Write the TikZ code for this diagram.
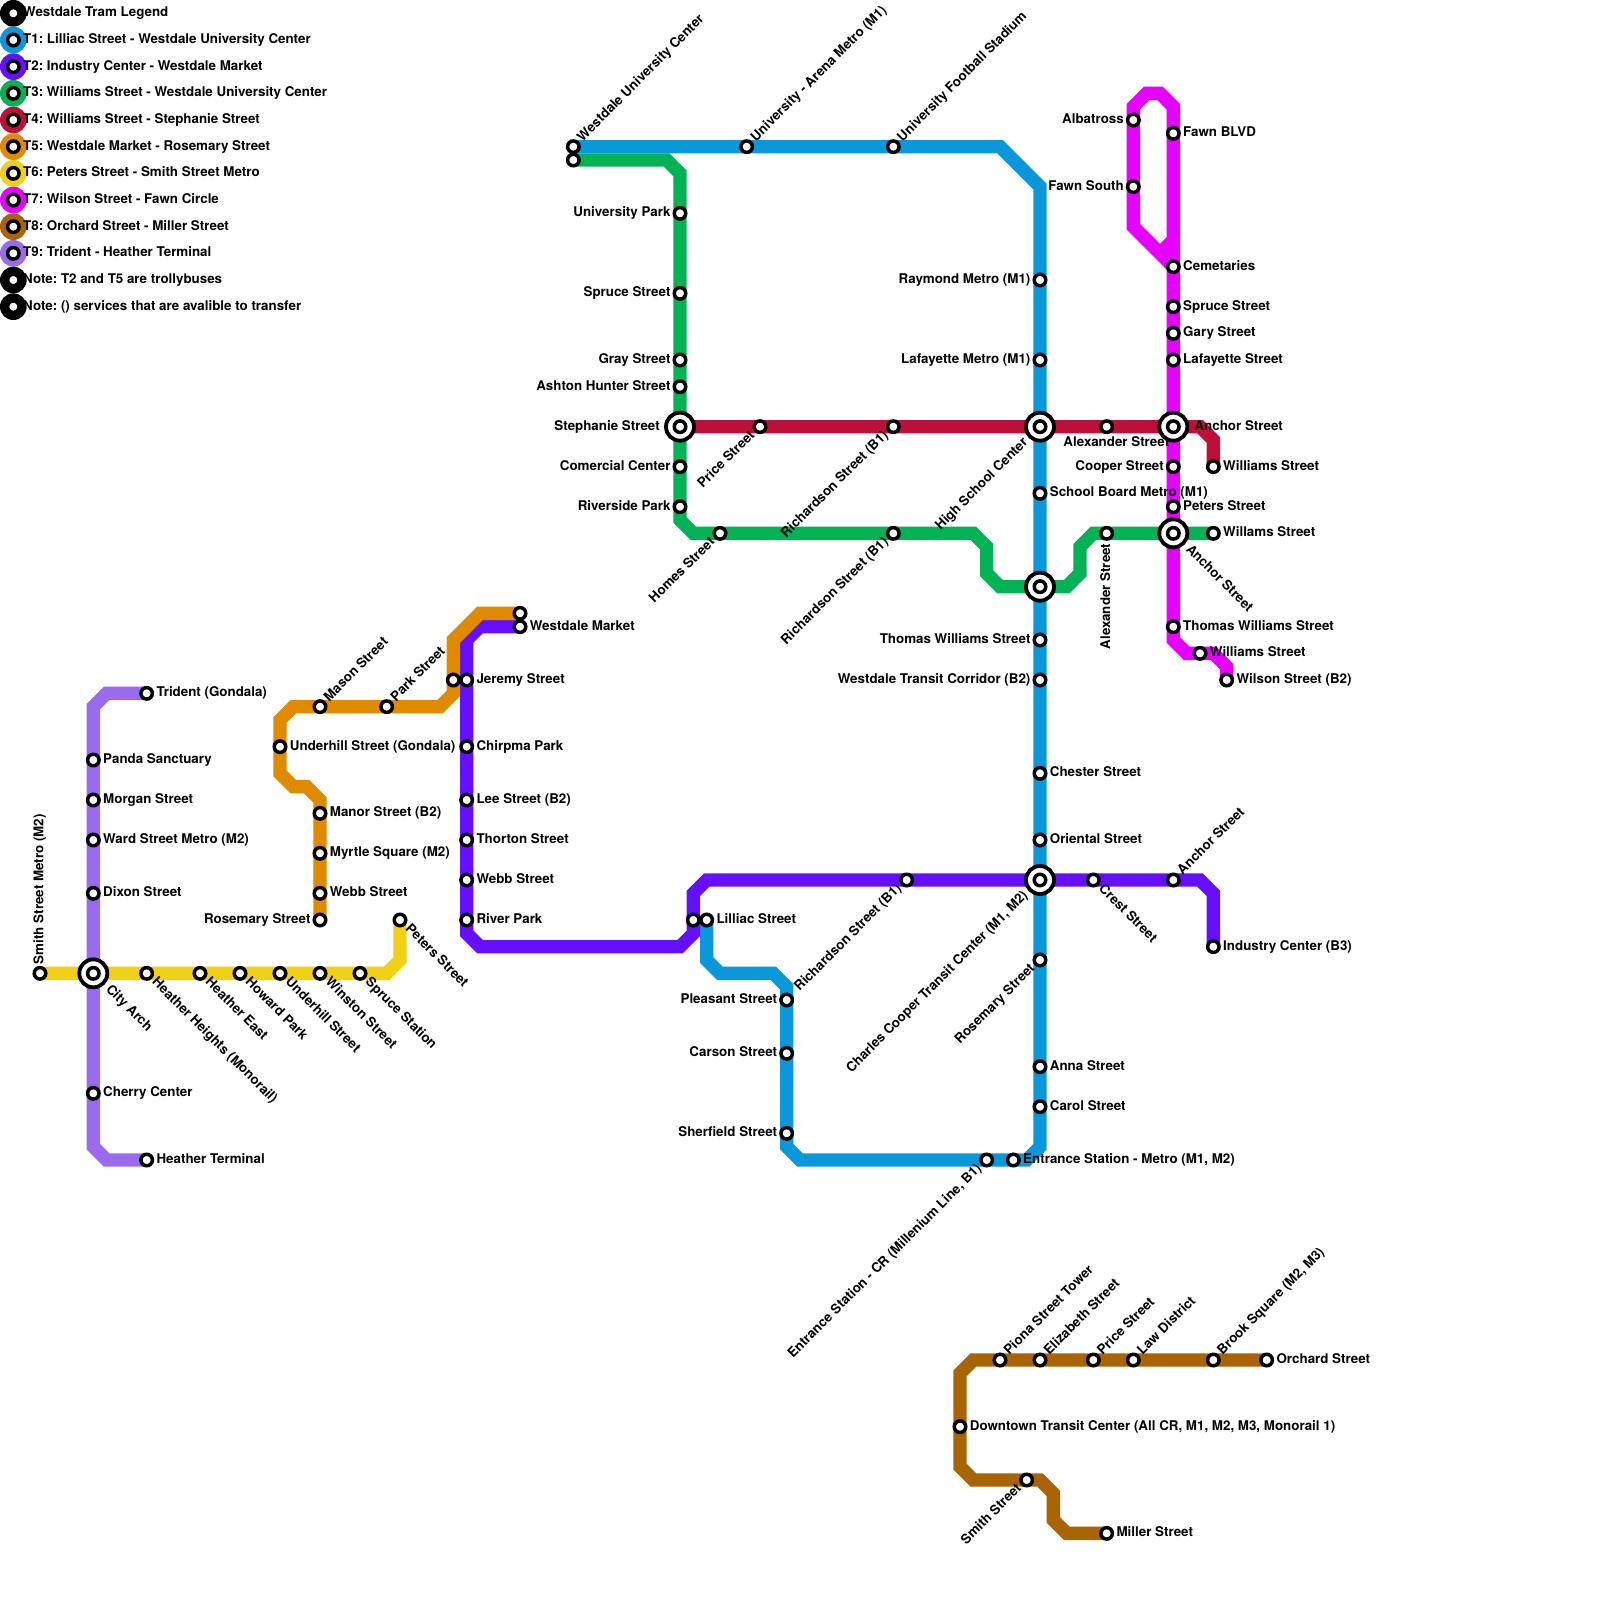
\documentclass[tikz,border=0pt]{standalone}
\usepackage{fontspec}
\setmainfont{TeX Gyre Heros}
\usetikzlibrary{backgrounds}
\definecolor{tone1}{HTML}{0A98DA}
\definecolor{tone2}{HTML}{660FFF}
\definecolor{tone3}{HTML}{02B254}
\definecolor{tone4}{HTML}{BD1038}
\definecolor{tone5}{HTML}{E08A00}
\definecolor{tone6}{HTML}{F2D016}
\definecolor{tone7}{HTML}{E500FF}
\definecolor{tone8}{HTML}{A86405}
\definecolor{tone9}{HTML}{9B6BEE}
\tikzset{
  tram/.style={line width=4mm},
  stop/.style={circle,draw=black,fill=white,line width=1.05mm,minimum size=3.45mm,inner sep=0pt,outer sep=0pt},
  hub/.style={circle,draw=black,fill=white,line width=1.15mm,minimum size=8.4mm,inner sep=0pt,outer sep=0pt},
  legdisc/.style={circle,minimum size=8mm,inner sep=0pt,outer sep=0pt},
  txt/.style={inner sep=0pt,font=\bfseries\fontsize{11.4}{13}\selectfont},
  rlab/.style={txt,anchor=base west,xshift=2.9mm,yshift=-1mm},
  llab/.style={txt,anchor=base east,xshift=-2.8mm,yshift=-1mm},
  rhub/.style={txt,anchor=base west,xshift=6.3mm,yshift=-1mm},
  lhub/.style={txt,anchor=base east,xshift=-6mm,yshift=-1mm},
  dlab/.style={txt,anchor=base,xshift=2.9mm,yshift=-5.8mm},
  urlab/.style={txt,anchor=base west,rotate=45,xshift=2.9mm,yshift=-1mm},
  lllab/.style={txt,anchor=base east,rotate=45,xshift=-2.9mm,yshift=-1mm},
  lrlab/.style={txt,anchor=base west,rotate=-45,xshift=3mm,yshift=-1mm},
  llhub/.style={txt,anchor=base east,rotate=45,xshift=-5.9mm,yshift=-1mm},
  lrhub/.style={txt,anchor=base west,rotate=-45,xshift=6mm,yshift=-1mm},
  uplab/.style={txt,anchor=base west,rotate=90,xshift=2.7mm,yshift=-1mm},
  dnlab/.style={txt,anchor=base east,rotate=90,xshift=-3mm,yshift=-1mm},
}
\begin{document}
\frenchspacing
\begin{tikzpicture}[x=4mm,y=-4mm]
\useasboundingbox (0,0) rectangle (120,120);

% legend
\foreach \py/\tone/\txt in {
  1/black/Westdale Tram Legend,
  3/tone1/T1: Lilliac Street - Westdale University Center,
  5/tone2/T2: Industry Center - Westdale Market,
  7/tone3/T3: Williams Street - Westdale University Center,
  9/tone4/T4: Williams Street - Stephanie Street,
  11/tone5/T5: Westdale Market - Rosemary Street,
  13/tone6/T6: Peters Street - Smith Street Metro,
  15/tone7/T7: Wilson Street - Fawn Circle,
  17/tone8/T8: Orchard Street - Miller Street,
  19/tone9/T9: Trident - Heather Terminal,
  21/black/Note: T2 and T5 are trollybuses,
  23/black/Note: () services that are avalible to transfer}{
  \node[legdisc,fill=\tone] (disc\py) at (1,\py) {};
  \node[stop] (leg\py) at (1,\py) {};
  \node[rlab] (legtxt\py) at (leg\py) {\txt};
}

% interchanges
\foreach \nm/\px/\py in {hstephanie/51/32,hschool/78/32,hanchor/88/32,hmid/78/44,hanchorb/88/40,hcooper/78/66,harch/7/73}
  \node[hub] (\nm) at (\px,\py) {};
\foreach \nm/\px/\py in {mid/78/44,tonetwo/52/69,uniwest/43/12,jeremywest/34/51,markettop/39/46}
  \node[stop] (\nm) at (\px,\py) {};

% stations
\foreach \nm/\px/\py/\lab/\txt in {
  % T1
  westdale/43/11/urlab/Westdale University Center,
  arena/56/11/urlab/University - Arena Metro (M1),
  stadium/67/11/urlab/University Football Stadium,
  raymond/78/21/llab/Raymond Metro (M1),
  lafayette/78/27/llab/Lafayette Metro (M1),
  highschool/78/32/llhub/High School Center,
  board/78/37/rlab/School Board Metro (M1),
  thomas/78/48/llab/Thomas Williams Street,
  corridor/78/51/llab/Westdale Transit Corridor (B2),
  chester/78/58/rlab/Chester Street,
  oriental/78/63/rlab/Oriental Street,
  cooper/78/66/llhub/{Charles Cooper Transit Center (M1, M2)},
  rosemary/78/72/lllab/Rosemary Street,
  anna/78/80/rlab/Anna Street,
  carol/78/83/rlab/Carol Street,
  metro/76/87/rlab/{Entrance Station - Metro (M1, M2)},
  entrance/74/87/lllab/{Entrance Station - CR (Millenium Line, B1)},
  sherfield/59/85/llab/Sherfield Street,
  carson/59/79/llab/Carson Street,
  pleasant/59/75/llab/Pleasant Street,
  lilliac/53/69/rlab/Lilliac Street,
  % T2
  market/39/47/rlab/Westdale Market,
  jeremy/35/51/rlab/Jeremy Street,
  chirpma/35/56/rlab/Chirpma Park,
  lee/35/60/rlab/Lee Street (B2),
  thorton/35/63/rlab/Thorton Street,
  webb/35/66/rlab/Webb Street,
  river/35/69/rlab/River Park,
  richa/68/66/lllab/Richardson Street (B1),
  crest/82/66/lrlab/Crest Street,
  anchora/88/66/urlab/Anchor Street,
  industry/91/71/rlab/Industry Center (B3),
  % T3
  university/51/16/llab/University Park,
  spruce/51/22/llab/Spruce Street,
  gray/51/27/llab/Gray Street,
  ashton/51/29/llab/Ashton Hunter Street,
  stephanie/51/32/lhub/Stephanie Street,
  comercial/51/35/llab/Comercial Center,
  riverside/51/38/llab/Riverside Park,
  homes/54/40/lllab/Homes Street,
  richb/67/40/lllab/Richardson Street (B1),
  alexb/83/40/dnlab/Alexander Street,
  anchorb/88/40/lrhub/Anchor Street,
  willams/91/40/rlab/Willams Street,
  % T4
  price/57/32/lllab/Price Street,
  richc/67/32/lllab/Richardson Street (B1),
  alex/83/32/dlab/Alexander Street,
  anchor/88/32/rhub/Anchor Street,
  williams/91/35/rlab/Williams Street,
  % T5
  mason/24/53/urlab/Mason Street,
  park/29/53/urlab/Park Street,
  underhill/21/56/rlab/Underhill Street (Gondala),
  manor/24/61/rlab/Manor Street (B2),
  myrtle/24/64/rlab/Myrtle Square (M2),
  webbst/24/67/rlab/Webb Street,
  rosemaryb/24/69/llab/Rosemary Street,
  % T6
  smith/3/73/uplab/Smith Street Metro (M2),
  arch/7/73/lrhub/City Arch,
  heights/11/73/lrlab/Heather Heights (Monorail),
  east/15/73/lrlab/Heather East,
  howard/18/73/lrlab/Howard Park,
  underst/21/73/lrlab/Underhill Street,
  winston/24/73/lrlab/Winston Street,
  station/27/73/lrlab/Spruce Station,
  peters/30/69/lrlab/Peters Street,
  % T7
  albatross/85/9/llab/Albatross,
  fawn/88/10/rlab/Fawn BLVD,
  fawnsouth/85/14/llab/Fawn South,
  cemetaries/88/20/rlab/Cemetaries,
  sprucest/88/23/rlab/Spruce Street,
  gary/88/25/rlab/Gary Street,
  lafayst/88/27/rlab/Lafayette Street,
  cooperst/88/35/llab/Cooper Street,
  petersst/88/38/rlab/Peters Street,
  thomasst/88/47/rlab/Thomas Williams Street,
  williamsb/90/49/rlab/Williams Street,
  wilson/92/51/rlab/Wilson Street (B2),
  % T8
  piona/75/102/urlab/Piona Street Tower,
  elizabeth/78/102/urlab/Elizabeth Street,
  pricest/82/102/urlab/Price Street,
  law/85/102/urlab/Law District,
  brook/91/102/urlab/{Brook Square (M2, M3)},
  orchard/95/102/rlab/Orchard Street,
  downtown/72/107/rlab/{Downtown Transit Center (All CR, M1, M2, M3, Monorail 1)},
  smithst/77/111/lllab/Smith Street,
  miller/83/115/rlab/Miller Street,
  % T9
  trident/11/52/rlab/Trident (Gondala),
  panda/7/57/rlab/Panda Sanctuary,
  morgan/7/60/rlab/Morgan Street,
  ward/7/63/rlab/Ward Street Metro (M2),
  dixon/7/67/rlab/Dixon Street,
  cherry/7/82/rlab/Cherry Center,
  terminal/11/87/rlab/Heather Terminal}{
  \node[stop] (\nm) at (\px,\py) {};
  \node[\lab] (\nm txt) at (\nm) {\txt};
}

% bends
\foreach \nm/\px/\py in {
  a1/75/11,a2/78/14,a3/78/86,a4/77/87,a5/60/87,a6/59/86,a7/59/74,a8/58/73,a9/54/73,a10/53/72,
  b1/36/47,b2/35/48,b3/35/70,b4/36/71,b5/51/71,b6/52/70,b7/52/67,b8/53/66,b9/90/66,b10/91/67,
  c1/50/12,c2/51/13,c3/51/39,c4/52/40,c5/73/40,c6/74/41,c7/74/43,c8/75/44,c9/80/44,c10/81/43,c11/81/41,c12/82/40,
  d1/90/32,d2/91/33,
  e1/36/46,e2/34/48,e3/34/52,e4/33/53,e5/22/53,e6/21/54,e7/21/58,e8/22/59,e9/23/59,e10/24/60,
  f1/29/73,f2/30/72,
  g1/92/50,g2/91/49,g3/89/49,g4/88/48,g5/88/8,g6/87/7,g7/86/7,g8/85/8,g9/85/17,g10/87/19,g11/88/18,
  h1/73/102,h2/72/103,h3/72/110,h4/73/111,h5/78/111,h6/79/112,h7/79/114,h8/80/115,
  i1/8/52,i2/7/53,i3/7/86,i4/8/87}
  \coordinate (\nm) at (\px,\py);

% lines
\begin{scope}[on background layer]
\draw[tram,tone1] (westdale.center) -- (a1) -- (a2) -- (a3) -- (a4) -- (a5) -- (a6) -- (a7) -- (a8) -- (a9) -- (a10) -- (lilliac.center);
\draw[tram,tone2] (market.center) -- (b1) -- (b2) -- (b3) -- (b4) -- (b5) -- (b6) -- (b7) -- (b8) -- (b9) -- (b10) -- (industry.center);
\draw[tram,tone3] (uniwest.center) -- (c1) -- (c2) -- (c3) -- (c4) -- (c5) -- (c6) -- (c7) -- (c8) -- (c9) -- (c10) -- (c11) -- (c12) -- (willams.center);
\draw[tram,tone4] (stephanie.center) -- (d1) -- (d2) -- (williams.center);
\draw[tram,tone5] (markettop.center) -- (e1) -- (e2) -- (e3) -- (e4) -- (e5) -- (e6) -- (e7) -- (e8) -- (e9) -- (e10) -- (rosemaryb.center);
\draw[tram,tone6] (smith.center) -- (f1) -- (f2) -- (peters.center);
\draw[tram,tone7] (wilson.center) -- (g1) -- (g2) -- (g3) -- (g4) -- (g5) -- (g6) -- (g7) -- (g8) -- (g9) -- (cemetaries.center);
\draw[tram,tone7] (g10) -- (g11);
\draw[tram,tone8] (orchard.center) -- (h1) -- (h2) -- (h3) -- (h4) -- (h5) -- (h6) -- (h7) -- (h8) -- (miller.center);
\draw[tram,tone9] (trident.center) -- (i1) -- (i2) -- (i3) -- (i4) -- (terminal.center);
\end{scope}
\end{tikzpicture}
\end{document}
